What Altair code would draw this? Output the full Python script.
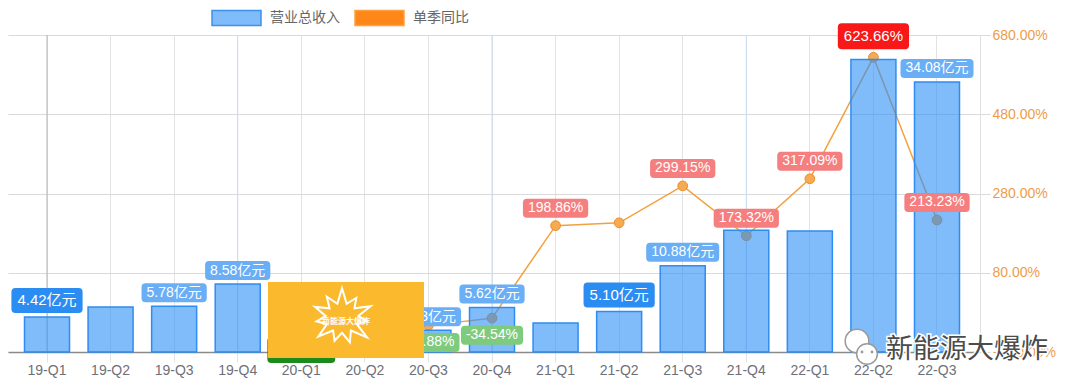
import math
import altair as alt
import pandas as pd

# ---------------- data ----------------
quarters = ["19-Q1", "19-Q2", "19-Q3", "19-Q4", "20-Q1", "20-Q2", "20-Q3", "20-Q4",
            "21-Q1", "21-Q2", "21-Q3", "21-Q4", "22-Q1", "22-Q2", "22-Q3"]
revenue = [4.42, 5.68, 5.78, 8.58, 1.23, 1.67, 2.73, 5.62,
           3.66, 5.10, 10.88, 15.36, 15.27, 36.91, 34.08]          # 亿元
yoy = [None, None, None, None, -72.29, -70.65, -52.88, -34.54,
       198.86, 205.99, 299.15, 173.32, 317.09, 623.66, 213.23]     # %
rev_label_on = ["19-Q1", "19-Q3", "19-Q4", "20-Q3", "20-Q4", "21-Q2", "21-Q3", "22-Q3"]
rev_emphasis = ["19-Q1", "21-Q2"]
yoy_label_on = ["20-Q1", "20-Q3", "20-Q4", "21-Q1", "21-Q3", "21-Q4", "22-Q1", "22-Q2", "22-Q3"]
right_ticks = [-120, 80, 280, 480, 680]
legend_names = ["营业总收入", "单季同比"]
watermark_text = "新能源大爆炸"

FONT = "Liberation Sans, Noto Sans CJK SC, sans-serif"


def text_w(s, fs):
    w = 0.0
    for ch in s:
        if ch.isdigit():
            w += 0.556
        elif ch == ".":
            w += 0.278
        elif ch == "%":
            w += 0.889
        elif ch == "-":
            w += 0.333
        else:
            w += 1.0
    return w * fs


def box_path(w, h, r=4.0):
    k = 2.0 / w
    X = 1.0
    Y = h * k / 2
    R = r * k
    f = lambda v: f"{v:.4f}"
    return (f"M{f(-X + R)},{f(-Y)}H{f(X - R)}Q{f(X)},{f(-Y)},{f(X)},{f(-Y + R)}"
            f"V{f(Y - R)}Q{f(X)},{f(Y)},{f(X - R)},{f(Y)}"
            f"H{f(-X + R)}Q{f(-X)},{f(Y)},{f(-X)},{f(Y - R)}"
            f"V{f(-Y + R)}Q{f(-X)},{f(-Y)},{f(-X + R)},{f(-Y)}Z")


df = pd.DataFrame({"q": quarters, "rev": revenue, "yoy": yoy})

# bar label table
brows = []
for q, v in zip(quarters, revenue):
    if q in rev_label_on:
        emph = q in rev_emphasis
        txt = f"{v:.2f}亿元"
        fs = 15 if emph else 14
        h = 25 if emph else 19
        w = text_w(txt, fs) + (12 if emph else 10)
        brows.append(dict(q=q, rev=v, txt=txt, fs=fs, sz=w * w, shp=box_path(w, h),
                          fill="#2B8CF2" if emph else "#6AAEF6", dy=-(4 + h / 2)))
bdf = pd.DataFrame(brows)

# yoy label table
valid = [v for v in yoy if v is not None]
vmax, vmin = max(valid), min(valid)
yrows = []
for q, v in zip(quarters, yoy):
    if q in yoy_label_on and v is not None:
        big = v in (vmax, vmin)
        fs = 15 if big else 14
        h = 26 if big else 19
        txt = f"{v:.2f}%"
        w = text_w(txt, fs) + (12 if big else 10)
        if v == vmax:
            fill = "#F81818"
        elif v == vmin:
            fill = "#1C8A1C"
        elif v < 0:
            fill = "#7ECB7E"
        else:
            fill = "#F57E7E"
        dy = -(8 + h / 2) if v >= 0 else 17.0
        yrows.append(dict(q=q, yoy=v, txt=txt, fs=fs, sz=w * w, shp=box_path(w, h), fill=fill, dy=dy))
ydf = pd.DataFrame(yrows)

# ---------------- scales / axes ----------------
xscale = alt.Scale(domain=quarters, paddingInner=0.292, paddingOuter=0.291, align=0.446)
xaxis = alt.Axis(title=None, labelFontSize=14, labelColor="#6E7079", labelFont=FONT, labelAngle=0,
                 labelPadding=1, domain=True, domainColor="#8A8A8A", domainWidth=1.5,
                 ticks=True, tickSize=10, tickColor="#E3E3E3", grid=True, gridColor="#E3E3E3",
                 bandPosition=0.5)
X = alt.X("q:N", sort=quarters, scale=xscale, axis=xaxis)

left_scale = alt.Scale(domain=[0, 40], nice=False, zero=True)
right_scale = alt.Scale(domain=[-120, 680], nice=False, zero=False)
right_axis = alt.Axis(orient="right", title=None, values=right_ticks,
                      labelExpr="format(datum.value, '.2f') + '%'",
                      labelColor="#EE9C49", labelFontSize=14, labelFont=FONT, labelPadding=2,
                      ticks=True, tickSize=10, tickColor="#DADADA",
                      domain=True, domainColor="#E0E0E0",
                      grid=True, gridColor="#DADADA")
YL = alt.Y("rev:Q", scale=left_scale, axis=None)
YR = alt.Y("yoy:Q", scale=right_scale, axis=right_axis)
YRn = alt.Y("yoy:Q", scale=right_scale, axis=None)

legend_path = "M-1,-0.306H1V0.306H-1Z"
legend = alt.Legend(orient="none", legendX=203, legendY=-42.5, direction="horizontal", title=None,
                    symbolType=legend_path, symbolSize=49 * 49, labelFontSize=14, labelColor="#666666",
                    labelFont=FONT, labelOffset=8, columnPadding=12, padding=0,
                    symbolOpacity=1, symbolStrokeWidth=1.5)

base = alt.Chart(df)

# ---------------- layers ----------------
legend_df = pd.DataFrame({"name": legend_names})
legend_layer = alt.Chart(legend_df).mark_point(filled=True, opacity=0).encode(
    x=alt.value(0), y=alt.value(0),
    color=alt.Color("name:N", sort=legend_names,
                    scale=alt.Scale(domain=legend_names, range=["#80BBFA", "#FF8618"]), legend=legend),
    stroke=alt.Stroke("name:N", sort=legend_names,
                      scale=alt.Scale(domain=legend_names, range=["#3C91EC", "#FFA040"]), legend=legend))

q4_rules = base.transform_filter("indexof(datum.q, 'Q4') >= 0").mark_rule(
    color="#C8DCF6", strokeWidth=1).encode(x=X)
q1_rule = base.transform_filter(alt.datum.q == quarters[0]).mark_rule(
    color="#B4B4B4", strokeWidth=1).encode(x=X)

line = base.transform_filter("isValid(datum.yoy)").mark_line(
    strokeWidth=1.5, color="#F3A03E").encode(x=X, y=YR)

points = base.transform_filter("isValid(datum.yoy)").mark_circle(
    size=95, color="#F6AA52", stroke="#EC8E2A", strokeWidth=1, opacity=1).encode(x=X, y=YRn)

bars = base.mark_bar(fill="#2B8EF7", fillOpacity=0.6, stroke="#2F8CF0", strokeWidth=1.5).encode(
    x=X, y=YL)


def label_layers(tab, Y):
    out = []
    for dy in sorted(tab["dy"].unique()):
        sub = tab[tab["dy"] == dy]
        box = alt.Chart(sub).mark_point(filled=True, opacity=1, strokeWidth=0, yOffset=float(dy)).encode(
            x=X, y=Y, shape=alt.Shape("shp:N", scale=None), size=alt.Size("sz:Q", scale=None),
            fill=alt.Fill("fill:N", scale=None))
        txt = alt.Chart(sub).mark_text(color="white", font=FONT, baseline="middle", align="center",
                                       yOffset=float(dy)).encode(
            x=X, y=Y, text="txt:N", size=alt.Size("fs:Q", scale=None))
        out += [box, txt]
    return out


blabels = label_layers(bdf, YL)
ylabels = label_layers(ydf, YRn)

# ---------------- watermarks ----------------
one = pd.DataFrame({"k": [0]})
wm_box = alt.Chart(one).mark_rect(color="#FBBA2D", opacity=1).encode(
    x=alt.value(260), x2=alt.value(416), y=alt.value(247), y2=alt.value(323))

radii = [1.0, 0.8, 0.95, 0.75, 1.0, 0.85, 0.8, 0.95, 0.78, 0.9, 0.85]
pts = []
n = len(radii)
for i in range(2 * n):
    ang = -math.pi / 2 + i * math.pi / n
    r = radii[i // 2] if i % 2 == 0 else 0.5
    pts.append((r * math.cos(ang), r * math.sin(ang) * 0.9))
star_path = "M" + "L".join(f"{x:.3f},{y:.3f}" for x, y in pts) + "Z"
wm_star = alt.Chart(one).mark_point(shape=star_path, size=66 * 66, filled=False, stroke="white",
                                    strokeWidth=2, opacity=1).encode(x=alt.value(334), y=alt.value(283))
wm_logo_txt = alt.Chart(one).mark_text(text=watermark_text, fontSize=8, fontWeight="bold", color="white",
                                       font=FONT).encode(x=alt.value(338), y=alt.value(287))

bub1 = alt.Chart(one).mark_point(shape="circle", size=560, filled=True, color="white", stroke="#9A9A9A",
                                 strokeWidth=1.5, opacity=1).encode(x=alt.value(849), y=alt.value(306))
bub2 = alt.Chart(one).mark_point(shape="circle", size=430, filled=True, color="white", stroke="#9A9A9A",
                                 strokeWidth=1.5, opacity=1).encode(x=alt.value(859), y=alt.value(319))
eye1 = alt.Chart(one).mark_point(shape="circle", size=8, filled=True, color="#9A9A9A", opacity=1).encode(
    x=alt.value(854), y=alt.value(317))
eye2 = alt.Chart(one).mark_point(shape="circle", size=8, filled=True, color="#9A9A9A", opacity=1).encode(
    x=alt.value(864), y=alt.value(317))
wx_halo = alt.Chart(one).mark_text(text=watermark_text, fontSize=27, color="white", stroke="white",
                                   strokeWidth=3, align="left", baseline="middle", font=FONT).encode(
    x=alt.value(878), y=alt.value(315))
wx_text = alt.Chart(one).mark_text(text=watermark_text, fontSize=27, color="#4B4B4B", align="left",
                                   baseline="middle", font=FONT).encode(x=alt.value(878), y=alt.value(315))

chart = alt.layer(
    q4_rules, q1_rule, line, points, bars, *blabels, *ylabels,
    wm_box, wm_star, wm_logo_txt, bub1, bub2, eye1, eye2, wx_halo, wx_text, legend_layer
).resolve_scale(y="independent").properties(
    width=972, height=317,
    padding={"left": 0, "top": 27, "right": 92, "bottom": 31},
    autosize=alt.AutoSizeParams(type="none"),
).configure_view(strokeWidth=0)

chart.save("out.html", embed_options={"renderer": "svg", "actions": False})
